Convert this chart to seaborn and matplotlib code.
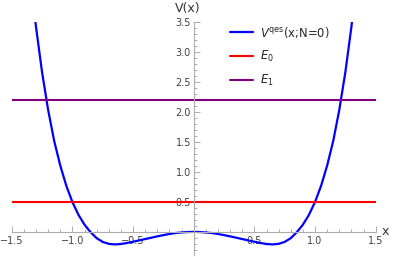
import matplotlib
matplotlib.use("Agg")
import matplotlib.pyplot as plt
import seaborn as sns
from matplotlib.ticker import MultipleLocator, FixedLocator

# Potential
x_vals = [-1.32, -1.3, -1.25, -1.2, -1.15, -1.1, -1.05, -1.0, -0.95, -0.9, -0.85,
          -0.8, -0.75, -0.7, -0.65, -0.6, -0.55, -0.5, -0.45, -0.4, -0.35, -0.3,
          -0.25, -0.2, -0.15, -0.1, -0.05, 0.0, 0.05, 0.1, 0.15, 0.2, 0.25, 0.3,
          0.35, 0.4, 0.45, 0.5, 0.55, 0.6, 0.65, 0.7, 0.75, 0.8, 0.85, 0.9, 0.95,
          1.0, 1.05, 1.1, 1.15, 1.2, 1.25, 1.3, 1.32]
v_vals = [3.78, 3.43, 2.67, 2.04, 1.52, 1.11, 0.77, 0.5, 0.285, 0.12, -0.005,
          -0.105, -0.168, -0.2, -0.21, -0.203, -0.186, -0.165, -0.143, -0.12, -0.098, -0.075,
          -0.055, -0.035, -0.02, -0.01, -0.003, 0.0, -0.003, -0.01, -0.02, -0.035, -0.055, -0.075,
          -0.098, -0.12, -0.143, -0.165, -0.186, -0.203, -0.21, -0.2, -0.168, -0.105, -0.005, 0.12, 0.285,
          0.5, 0.77, 1.11, 1.52, 2.04, 2.67, 3.43, 3.78]

# Energy levels
energy_names = [r"$E_0$", r"$E_1$"]
energy_vals = [0.5, 2.2]
energy_x = [-1.5, 1.5]
curve_name = r"$V^{\mathrm{qes}}$(x;N=0)"

sns.set_style("white")
plt.rcParams['font.family'] = ['DejaVu Sans']
plt.rcParams['mathtext.fontset'] = 'dejavusans'

fig = plt.figure(figsize=(3.98, 2.57), dpi=100)
ax = fig.add_axes([0.0294, 0.007, 0.9146, 0.906])

sns.lineplot(x=x_vals, y=v_vals, color=(0, 0, 1), lw=1.6, sort=False, ax=ax, label=curve_name)
colors = [(1, 0, 0), (0.5, 0, 0.5)]
for name, e, c in zip(energy_names, energy_vals, colors):
    sns.lineplot(x=energy_x, y=[e, e], color=c, lw=1.5, ax=ax, label=name)

ax.set_xlim(-1.5, 1.5)
ax.set_ylim(-0.39, 3.5)

# Mathematica style axes through the origin
for s in ['top', 'right']:
    ax.spines[s].set_visible(False)
ax.spines['left'].set_position(('data', 0))
ax.spines['bottom'].set_position(('data', 0))
axis_gray = (0.68, 0.68, 0.68)
for s in ['left', 'bottom']:
    ax.spines[s].set_color(axis_gray)
    ax.spines[s].set_linewidth(0.8)

ax.xaxis.set_major_locator(FixedLocator([-1.5, -1.0, -0.5, 0.5, 1.0, 1.5]))
ax.yaxis.set_major_locator(FixedLocator([0.5, 1.0, 1.5, 2.0, 2.5, 3.0, 3.5]))
ax.xaxis.set_minor_locator(MultipleLocator(0.1))
ax.yaxis.set_minor_locator(MultipleLocator(0.1))
ax.xaxis.set_major_formatter(lambda v, p: f"{v:.1f}".replace("-", "\u2212"))
ax.yaxis.set_major_formatter(lambda v, p: f"{v:.1f}")
ax.tick_params(which='both', bottom=True, left=True, direction='in', color=axis_gray,
               labelsize=7, labelcolor=(0.25, 0.25, 0.25), width=0.7)
ax.tick_params(which='major', length=4.5, pad=2)
ax.tick_params(which='minor', length=2.5)
ax.tick_params(axis='x', pad=3)

ax.text(1.545, 0, "x", fontsize=9, va='center', ha='left', color=(0.2, 0.2, 0.2), clip_on=False)
ax.text(-0.05, 3.73, "V(x)", fontsize=9, va='center', ha='center', color=(0.2, 0.2, 0.2), clip_on=False)

ax.legend(loc='upper left', bbox_to_anchor=(0.552, 0.945), bbox_transform=fig.transFigure,
          frameon=False, fontsize=8.3, handlelength=2.0, handletextpad=0.6, labelspacing=0.8)

fig.savefig("out.png", dpi=100)
